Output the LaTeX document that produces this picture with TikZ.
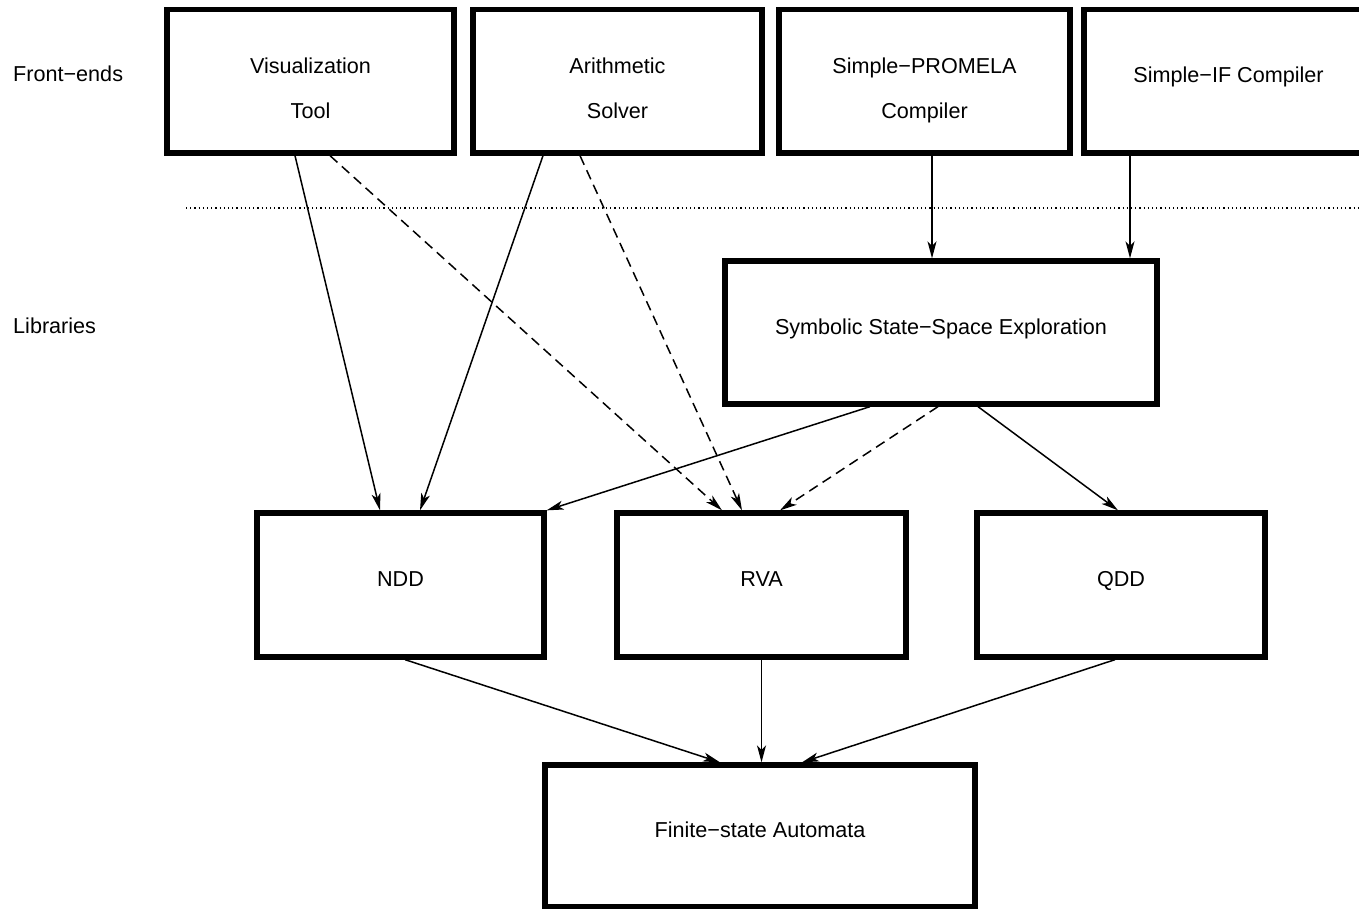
\documentclass[tikz,border=0pt]{standalone}
\usepackage{fontspec}
\setmainfont{Liberation Sans}
\usetikzlibrary{arrows.meta}
\begin{document}
\begin{tikzpicture}[x=1pt,y=-1pt,
  box/.style={draw,line width=5.3pt,rectangle,inner sep=0pt,align=center,
    font=\fontsize{21.6}{45}\selectfont},
  one/.style={box,text height=3.5pt,text depth=0pt},
  two/.style={box,text height=74.5pt,text depth=0pt},
  lbl/.style={anchor=west,inner sep=0pt,font=\fontsize{21.6}{24}\selectfont},
  arr/.style={line width=1.5pt,-{Stealth[length=17pt,width=9pt,inset=4.5pt]}},
  darr/.style={arr,dash pattern=on 10pt off 6pt},
  sep/.style={line width=1.2pt,dash pattern=on 1.2pt off 3pt}
]
\useasboundingbox (0,0) rectangle (1359,909);
\clip (0,0) rectangle (1359,909);
\node[lbl] (fe) at (13,74) {Front−ends};
\node[lbl] (lib) at (13,326) {Libraries};

\node[two,minimum width=287pt,minimum height=143.5pt] (vis) at (310.5,81.25) {Visualization\\Tool};
\node[two,minimum width=289pt,minimum height=143.5pt] (ari) at (617.5,81.25) {Arithmetic\\Solver};
\node[two,minimum width=291pt,minimum height=143.5pt] (pro) at (924.5,81.25) {Simple−PROMELA\\Compiler};
\node[one,minimum width=289pt,minimum height=143.5pt] (sif) at (1228.5,81.25) {Simple−IF Compiler};
\node[one,minimum width=432pt,minimum height=143pt] (sym) at (941,332.5) {Symbolic State−Space Exploration};
\node[one,minimum width=287pt,minimum height=144pt] (ndd) at (400.5,585) {NDD};
\node[one,minimum width=289pt,minimum height=144pt] (rva) at (761.5,585) {RVA};
\node[one,minimum width=288pt,minimum height=144pt] (qdd) at (1121,585) {QDD};
\node[one,minimum width=430pt,minimum height=142pt] (fin) at (760,836) {Finite−state Automata};

\coordinate (s1) at (186,208);
\coordinate (s2) at (1359,208);
\draw[sep] (s1) -- (s2);

\draw[arr] ([xshift=-15.5pt]vis.south) -- ([xshift=-20.5pt]ndd.north);
\draw[darr] ([xshift=19.5pt]vis.south) -- ([xshift=-39.5pt]rva.north);
\draw[arr] ([xshift=-74.5pt]ari.south) -- ([xshift=19.5pt]ndd.north);
\draw[darr] ([xshift=-37.5pt]ari.south) -- ([xshift=-19.5pt]rva.north);
\draw[arr] ([xshift=7.5pt]pro.south) -- ([xshift=-9pt]sym.north);
\draw[arr] ([xshift=-98.5pt]sif.south) -- ([xshift=189pt]sym.north);
\draw[arr] ([xshift=-71pt]sym.south) -- (ndd.north east);
\draw[darr] ([xshift=-3pt]sym.south) -- ([xshift=18.5pt]rva.north);
\draw[arr] ([xshift=37pt]sym.south) -- ([xshift=-3pt]qdd.north);
\draw[arr] ([xshift=4.5pt]ndd.south) -- ([xshift=-40pt]fin.north);
\draw[arr] (rva.south) -- (rva.south |- fin.north);
\draw[arr] ([xshift=-6pt]qdd.south) -- ([xshift=42pt]fin.north);
\end{tikzpicture}
\end{document}
